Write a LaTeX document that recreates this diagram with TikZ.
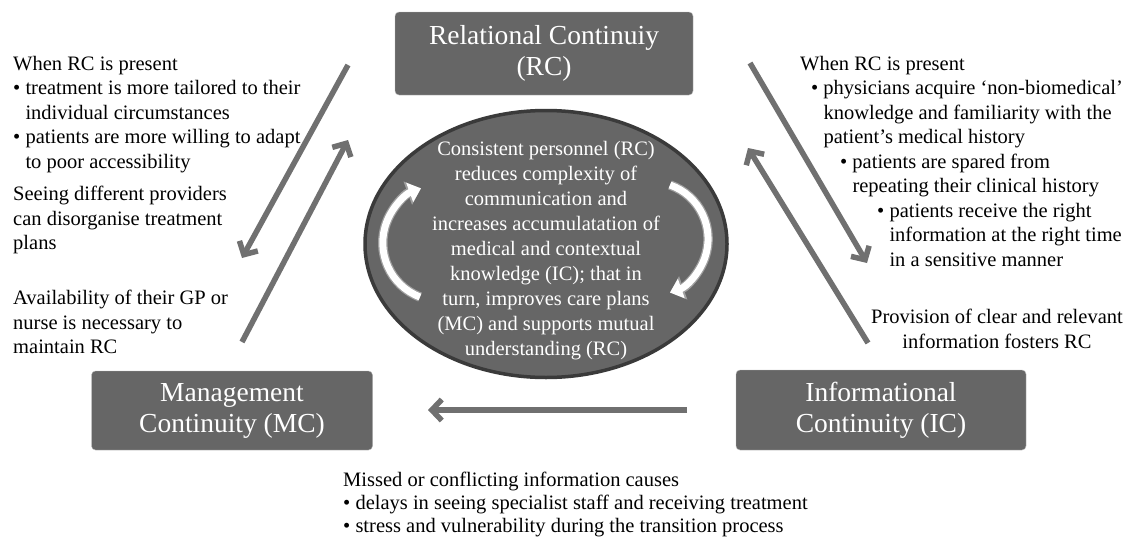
\documentclass[tikz,border=0pt]{standalone}
\usepackage{fontspec}
\setmainfont{Liberation Serif}
\usetikzlibrary{arrows.meta, shapes.geometric, positioning}
\definecolor{boxgray}{RGB}{102,102,102}
\definecolor{rimgray}{RGB}{58,58,58}
\definecolor{arrowgray}{RGB}{112,112,112}
\newcommand{\bul}{\textbullet\ }
\newcommand{\ind}{\hphantom{\textbullet\ }}

\begin{document}
\begin{tikzpicture}[x=1pt, y=-1pt]
        \tikzstyle{continuity} = [rectangle, rounded corners=4pt, draw=gray!55, fill=boxgray, text=white, align=center, inner sep=0pt, font=\fontsize{27.5}{31}\selectfont]
        \tikzstyle{note} = [inner sep=0pt, align=left, font=\fontsize{20.5}{24.5}\selectfont]
        \tikzstyle{bigarrow} = [line width=5.5pt, draw=arrowgray, -{Straight Barb[length=10pt, width=21pt]}]
        \tikzstyle{cyclearrow} = [line width=7pt, draw=white, -{Triangle[length=12pt, width=20pt]}, preaction={draw=gray!75, line width=9.5pt, -{Triangle[length=14pt, width=24pt]}}]

        \fill[white] (0,0) rectangle (1126,538);
        \useasboundingbox (0,0) rectangle (1126,538);

        % the three continuity boxes
        \node (rc) [continuity, minimum width=298, minimum height=83] at (544,53.5) {Relational Continuiy\\(RC)};
        \node (mc) [continuity, minimum width=281, minimum height=79] at (232,410.5) {Management\\Continuity (MC)};
        \node (ic) [continuity, minimum width=290, minimum height=80] at (881,410) {Informational\\Continuity (IC)};

        % central ellipse
        \node (core) [ellipse, minimum width=362, minimum height=267, fill=boxgray, draw=rimgray, line width=3.5pt] at (546,244) {};
        \node (coretext) [text=white, align=center, inner sep=0pt, font=\fontsize{20.5}{25}\selectfont, yshift=-7pt] at (core.center)
            {Consistent personnel (RC)\\reduces complexity of\\communication and\\increases accumulatation of\\medical and contextual\\knowledge (IC); that in\\turn, improves care plans\\(MC) and supports mutual\\understanding (RC)};

        \coordinate (ltail) at (420,297);
        \coordinate (rtail) at (670,185);
        \draw [cyclearrow] (ltail) arc[start angle=111, end angle=250, radius=58];
        \draw [cyclearrow] (rtail) arc[start angle=-70.6, end angle=70.6, radius=57];

        % side notes
        \node (lefttop) [note, anchor=north west] at (13,56)
            {When RC is present\\
             \bul treatment is more tailored to their\\
             \ind individual circumstances\\
             \bul patients are more willing to adapt\\
             \ind to poor accessibility};
        \node (leftmid) [note, anchor=north west] at (13,186)
            {Seeing different providers\\can disorganise treatment\\plans};
        \node (leftlow) [note, anchor=north west] at (13,290)
            {Availability of their GP or\\nurse is necessary to\\maintain RC};
        \node (righttop) [note, anchor=north west] at (800,56)
            {When RC is present\\
             \hspace*{11pt}\bul physicians acquire ‘non-biomedical’\\
             \hspace*{11pt}\ind knowledge and familiarity with the\\
             \hspace*{11pt}\ind patient’s medical history\\
             \hspace*{40pt}\bul patients are spared from\\
             \hspace*{40pt}\ind repeating their clinical history\\
             \hspace*{77pt}\bul patients receive the right\\
             \hspace*{77pt}\ind information at the right time\\
             \hspace*{77pt}\ind in a sensitive manner};
        \node (rightlow) [note, align=center, anchor=north east] at (1123,309)
            {Provision of clear and relevant\\information fosters RC};
        \node (bottom) [note, anchor=north west, font=\fontsize{20.5}{23}\selectfont] at (343,472)
            {Missed or conflicting information causes\\
             \bul delays in seeing specialist staff and receiving treatment\\
             \bul stress and vulnerability during the transition process};

        % big grey arrows
        \coordinate (a1) at (348,65);  \coordinate (a2) at (242,258);
        \coordinate (b1) at (242,342); \coordinate (b2) at (348,140);
        \coordinate (c1) at (750,63);  \coordinate (c2) at (867,263);
        \coordinate (d1) at (868,343); \coordinate (d2) at (748,148);
        \coordinate (e1) at (687,410); \coordinate (e2) at (428,410);
        \draw [bigarrow] (a1) -- (a2);
        \draw [bigarrow] (b1) -- (b2);
        \draw [bigarrow] (c1) -- (c2);
        \draw [bigarrow] (d1) -- (d2);
        \draw [bigarrow] (e1) -- (e2);
\end{tikzpicture}
\end{document}
